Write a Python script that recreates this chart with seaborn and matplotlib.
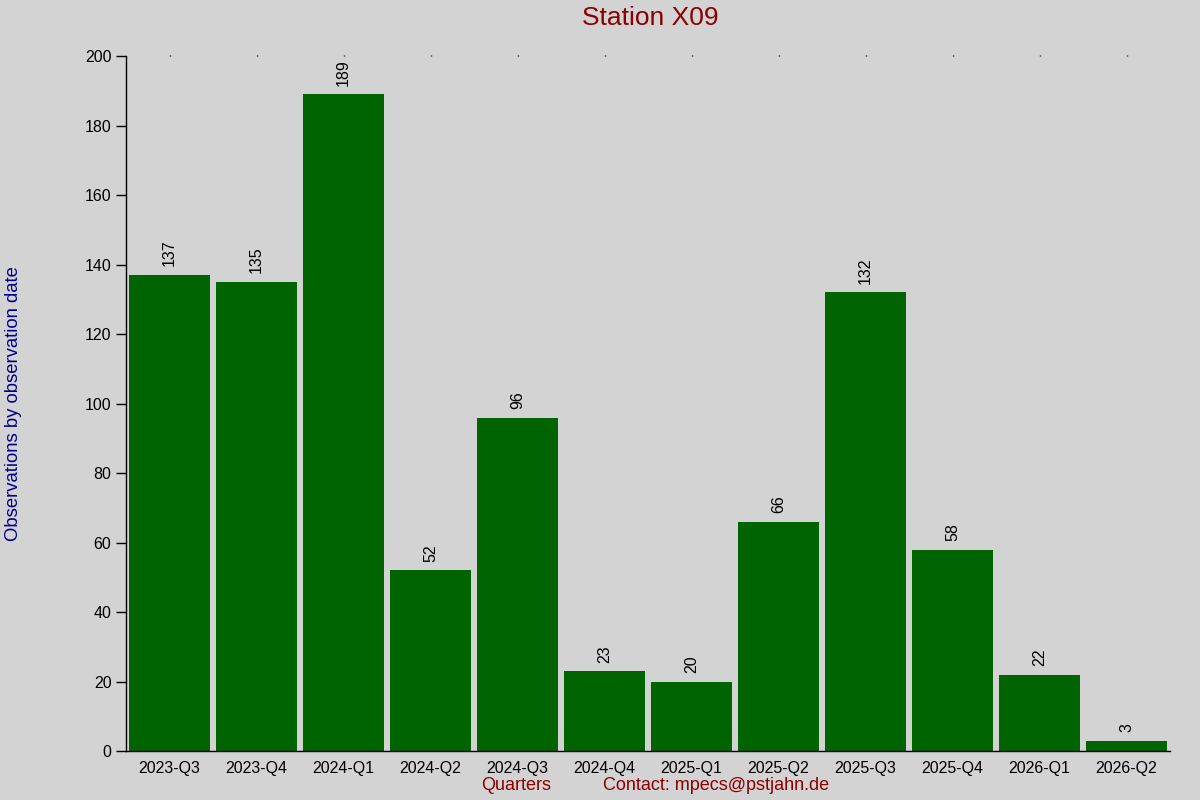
import matplotlib
matplotlib.use("Agg")
import matplotlib.pyplot as plt
import pandas as pd
import seaborn as sns

quarters = ["2023-Q3", "2023-Q4", "2024-Q1", "2024-Q2", "2024-Q3", "2024-Q4",
            "2025-Q1", "2025-Q2", "2025-Q3", "2025-Q4", "2026-Q1", "2026-Q2"]
counts = [137, 135, 189, 52, 96, 23, 20, 66, 132, 58, 22, 3]

df = pd.DataFrame({"quarter": quarters, "count": counts})

sns.set_style("white")
plt.rcParams["font.family"] = ["Liberation Sans", "DejaVu Sans"]

BG = "#d3d3d3"
fig = plt.figure(figsize=(12, 8), dpi=100, facecolor=BG)
ax = fig.add_axes([0.105, 0.061, 0.87, 0.869])
ax.set_facecolor(BG)

sns.barplot(data=df, x="quarter", y="count", color="#006400", width=0.92,
            saturation=1, ax=ax)
for p in ax.patches:
    p.set_edgecolor("none")

# value labels above bars
for i, v in enumerate(counts):
    ax.text(i, v + 2.5, str(v), rotation=90, ha="center", va="bottom",
            fontsize=11.5, color="black")

ax.set_xlim(-0.5, 11.5)
ax.set_ylim(0, 200)
ax.set_yticks(range(0, 201, 20))

for s in ["top", "right"]:
    ax.spines[s].set_visible(False)
for s in ["left", "bottom"]:
    ax.spines[s].set_color("black")
    ax.spines[s].set_linewidth(1)

ax.tick_params(axis="y", left=True, length=7, width=1, labelsize=11.5,
               colors="black", labelcolor="black")
ax.tick_params(axis="x", bottom=False, top=True, length=1, width=1, color="black",
               labelcolor="black", labelbottom=True, labeltop=False,
               labelsize=11.5, pad=6)

ax.set_xlabel("")
ax.set_ylabel("")

fig.text(0.5417, 0.977, "Station X09", ha="center", va="center",
         fontsize=19, color="#8b0000")
fig.text(0.011, 0.496, "Observations by observation date", rotation=90,
         ha="center", va="center", fontsize=13.3, color="#00008b")
fig.text(0.43, 0.018, "Quarters", ha="center", va="center",
         fontsize=13, color="#8b0000")
fig.text(0.5025, 0.018, "Contact: mpecs@pstjahn.de", ha="left", va="center",
         fontsize=13, color="#8b0000")

fig.savefig("out.png", dpi=100, facecolor=BG)
